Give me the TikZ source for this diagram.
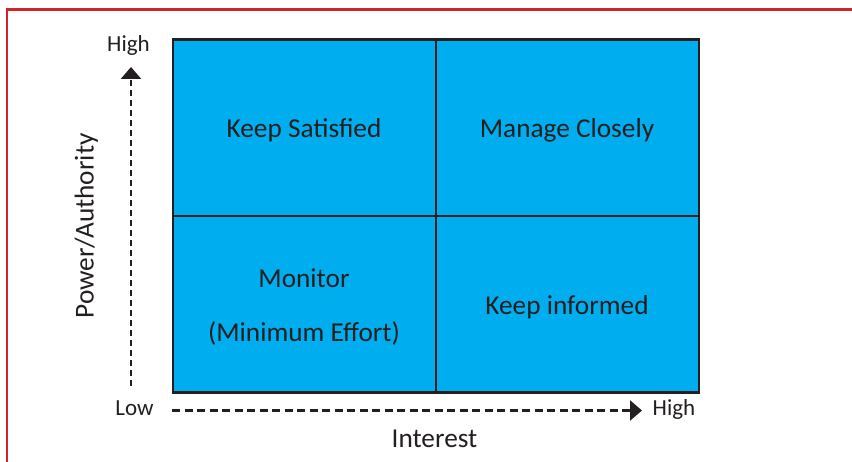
\documentclass[tikz,border=0pt]{standalone}
\usepackage{fontspec}
\setmainfont{Carlito}
\usetikzlibrary{arrows.meta}
\definecolor{quadfill}{HTML}{00AEEF}
\definecolor{inkdark}{HTML}{231F20}
\definecolor{framered}{HTML}{D2232A}
\tikzset{
  quadlabel/.style={anchor=base, text=inkdark, font=\fontsize{27.3}{32}\selectfont, inner sep=0pt},
  axislabel/.style={anchor=base, text=inkdark, font=\fontsize{27.3}{32}\selectfont, inner sep=0pt},
  endlabel/.style={anchor=base, text=inkdark, font=\fontsize{23}{27}\selectfont, inner sep=0pt},
  axisarrow/.style={draw=inkdark, line width=2.5pt, -{Triangle[length=12pt,width=20pt]}},
}
\begin{document}
\begin{tikzpicture}[x=1pt,y=-1pt]
\useasboundingbox (0,0) rectangle (852,462);
\fill[white] (0,0) rectangle (852,462);
% red frame
\draw[framered, line width=3pt] (7,9.5) -- (852,9.5);
\draw[framered, line width=2.5pt] (7,8) -- (7,462);
% matrix
\draw[fill=quadfill, draw=inkdark, line width=2.4pt] (173,39.5) rectangle (699,392.5);
\draw[inkdark, line width=2.4pt] (173,216) -- (699,216);
\draw[inkdark, line width=2.4pt] (435.7,39.5) -- (435.7,392.5);
% quadrant labels
\node[quadlabel] (ks) at (304,137.5) {Keep Satisfied};
\node[quadlabel] (mc) at (567,137.5) {Manage Closely};
\node[quadlabel] (mo) at (304,288) {Monitor};
\node[quadlabel] (me) at (304,342) {(Minimum Effort)};
\node[quadlabel] (ki) at (567,315) {Keep informed};
% axis end labels
\node[endlabel] (hy) at (128.5,52) {High};
\node[endlabel] (lo) at (134.5,415.5) {Low};
\node[endlabel] (hx) at (674,415.5) {High};
\node[axislabel] (ix) at (434.5,447.3) {Interest};
\node[axislabel, rotate=90] (py) at (93.5,226) {Power/Authority};
% axes
\coordinate (vs) at (131,386);
\coordinate (ve) at (131,67);
\coordinate (hs) at (172,410.5);
\coordinate (he) at (642,410.5);
\draw[axisarrow, dash pattern=on 6pt off 4pt] (vs) -- (ve);
\draw[axisarrow, dash pattern=on 8pt off 4.5pt] (hs) -- (he);
\end{tikzpicture}
\end{document}
